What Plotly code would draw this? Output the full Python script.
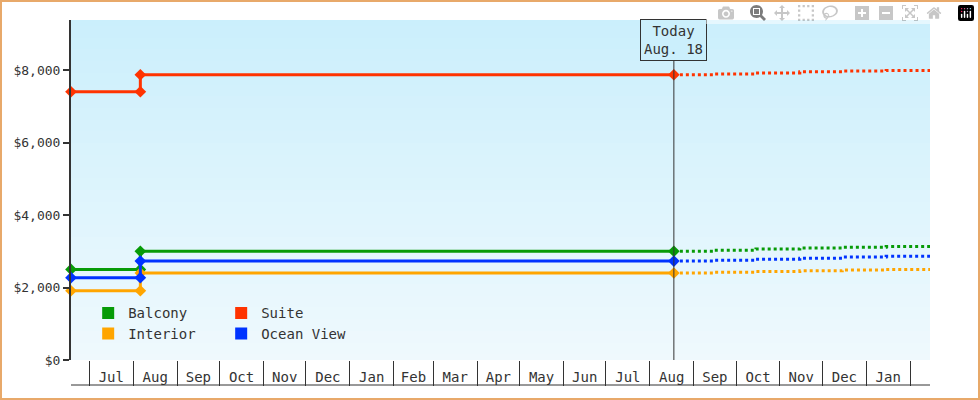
import plotly.graph_objects as go
import numpy as np

names = ["Balcony", "Suite", "Interior", "Ocean View"]
colors = {"Balcony": "#079b07", "Suite": "#ff3300", "Interior": "#ffa500", "Ocean View": "#0033ff"}
hist_dates = ["2017-06-18", "2017-08-06", "2017-08-06", "2018-08-18"]
hist_vals = {
    "Balcony": [2500, 2500, 3000, 3000],
    "Suite": [7400, 7400, 7870, 7870],
    "Interior": [1910, 1910, 2400, 2400],
    "Ocean View": [2270, 2270, 2730, 2730],
}
fc_dates = ["2018-08-18", "2018-09-15", "2018-10-15", "2018-11-15", "2018-12-15", "2019-01-15", "2019-02-15"]
fc_vals = {
    "Balcony": [3000, 3030, 3060, 3090, 3110, 3130, 3150],
    "Suite": [7870, 7890, 7920, 7950, 7970, 7990, 8010],
    "Interior": [2400, 2420, 2440, 2460, 2480, 2500, 2520],
    "Ocean View": [2730, 2750, 2780, 2810, 2840, 2860, 2880],
}
x_start, x_end = "2017-06-18", "2019-02-15"
today = "2018-08-18"
y_max = 9380
y_ticks = [0, 2000, 4000, 6000, 8000]
font = "DejaVu Sans Mono"

fig = go.Figure()
gy = np.linspace(0, y_max, 30)
fig.add_trace(go.Heatmap(x=[x_start, x_end], y=gy, z=[[v, v] for v in gy],
                         colorscale=[[0, "#eff9fd"], [1, "#cbeffc"]], showscale=False,
                         hoverinfo="skip"))
for n in names:
    fig.add_trace(go.Scatter(x=hist_dates, y=hist_vals[n], mode="lines+markers",
                             line=dict(color=colors[n], width=3), cliponaxis=False,
                             marker=dict(symbol="diamond", size=9, color=colors[n]),
                             showlegend=False))
    fig.add_trace(go.Scatter(x=fc_dates, y=fc_vals[n], mode="lines",
                             line=dict(color=colors[n], width=3, dash="dot", shape="hv"),
                             showlegend=False))
    fig.add_trace(go.Scatter(x=[None], y=[None], mode="markers", name=n,
                             marker=dict(symbol="square", size=12, color=colors[n]),
                             legend="legend" if n in ("Balcony", "Suite") else "legend2"))

fig.add_shape(type="line", x0=today, x1=today, y0=0, y1=0.88, xref="x", yref="paper",
              line=dict(color="#333", width=1))
fig.add_annotation(x=today, y=0.88, yref="paper", text="Today<br>Aug. 18", showarrow=False,
                   yanchor="bottom", bordercolor="#333", borderwidth=1, borderpad=3,
                   bgcolor="#cbeffc", font=dict(family=font, size=14, color="#333"))
fig.add_shape(type="rect", xref="paper", yref="paper", x0=-70/859, x1=1 + 49/859,
              y0=-39/340, y1=1 + 19/340, line=dict(color="#e8a96a", width=2), layer="below")
fig.add_shape(type="line", xref="paper", yref="paper", x0=0, x1=1, y0=-25/340, y1=-25/340,
              line=dict(color="#333", width=1))

fig.update_layout(
    width=980, height=400, margin=dict(l=71, r=50, t=20, b=40),
    paper_bgcolor="white", plot_bgcolor="white",
    font=dict(family=font, size=14, color="#333"),
    xaxis=dict(type="date", range=[x_start, x_end], dtick="M1", tick0="2017-07-01",
               tickformat="%b", ticklabelmode="period", ticks="outside", ticklen=25,
               ticklabelstandoff=-21, tickcolor="#333", showgrid=False, zeroline=False,
               showline=False),
    yaxis=dict(range=[0, y_max], tickvals=y_ticks, tickformat="$,", ticks="outside",
               ticklen=6, tickcolor="#333", tickwidth=2, showgrid=False, zeroline=False,
               showline=True, linecolor="#333", linewidth=2, tickfont=dict(size=13)),
    legend=dict(orientation="h", x=0.02, y=0.09, yanchor="bottom", bgcolor="rgba(0,0,0,0)",
                entrywidth=88, font=dict(family=font, size=14), itemwidth=30),
    legend2=dict(orientation="h", x=0.02, y=0.03, yanchor="bottom", bgcolor="rgba(0,0,0,0)",
                 entrywidth=88, font=dict(family=font, size=14), itemwidth=30),
)
fig.write_html("out.html", post_script="document.body.style.margin='0';window.dispatchEvent(new Event('resize'));")
